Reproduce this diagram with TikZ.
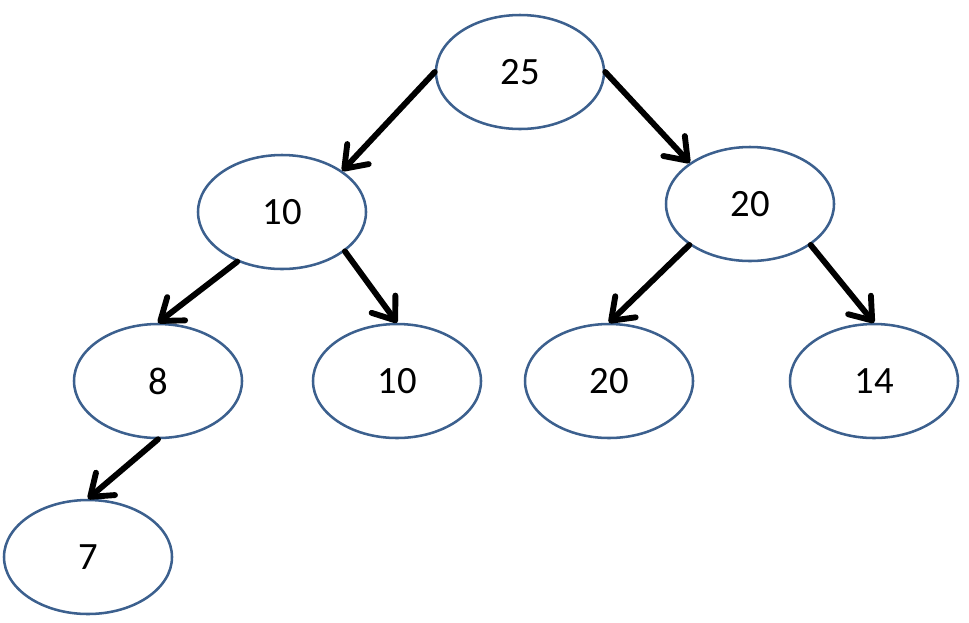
\documentclass[tikz,border=0pt]{standalone}
\usepackage{fontspec}
\setmainfont{Carlito}
\usetikzlibrary{shapes.geometric,arrows.meta}
\definecolor{keyline}{RGB}{60,96,142}

\begin{document}
\begin{tikzpicture}[x=0.75pt,y=-0.75pt,
    key/.style={ellipse,draw=keyline,line width=1.9pt,
      minimum width=126pt,minimum height=85.5pt,inner sep=0pt,
      font=\fontsize{29}{34}\selectfont},
    link/.style={line width=4.4pt,line cap=round,
      -{Straight Barb[length=15pt,width=22pt,round]}}]
    \useasboundingbox (0,0) rectangle (969,622);
    \node[key] (n25) at (520,72) {25};
    \node[key] (n10) at (282,212) {10};
    \node[key] (n20) at (750,204) {20};
    \node[key] (n8) at (158,381) {8};
    \node[key] (n10b) at (397,381) {10};
    \node[key] (n20b) at (609,381) {20};
    \node[key] (n14) at (874,381) {14};
    \node[key] (n7) at (88,557) {7};
    \draw[link] (n25.west) -- (n10.north east);
    \draw[link] (n25.east) -- (n20.north west);
    \draw[link] (n10.228) -- (n8.north);
    \draw[link] (n10.-32) -- (n10b.north);
    \draw[link] (n20.214) -- (n20b.north);
    \draw[link] (n20.-34) -- (n14.north);
    \draw[link] (n8.south) -- (n7.north);
  \end{tikzpicture}
\end{document}
